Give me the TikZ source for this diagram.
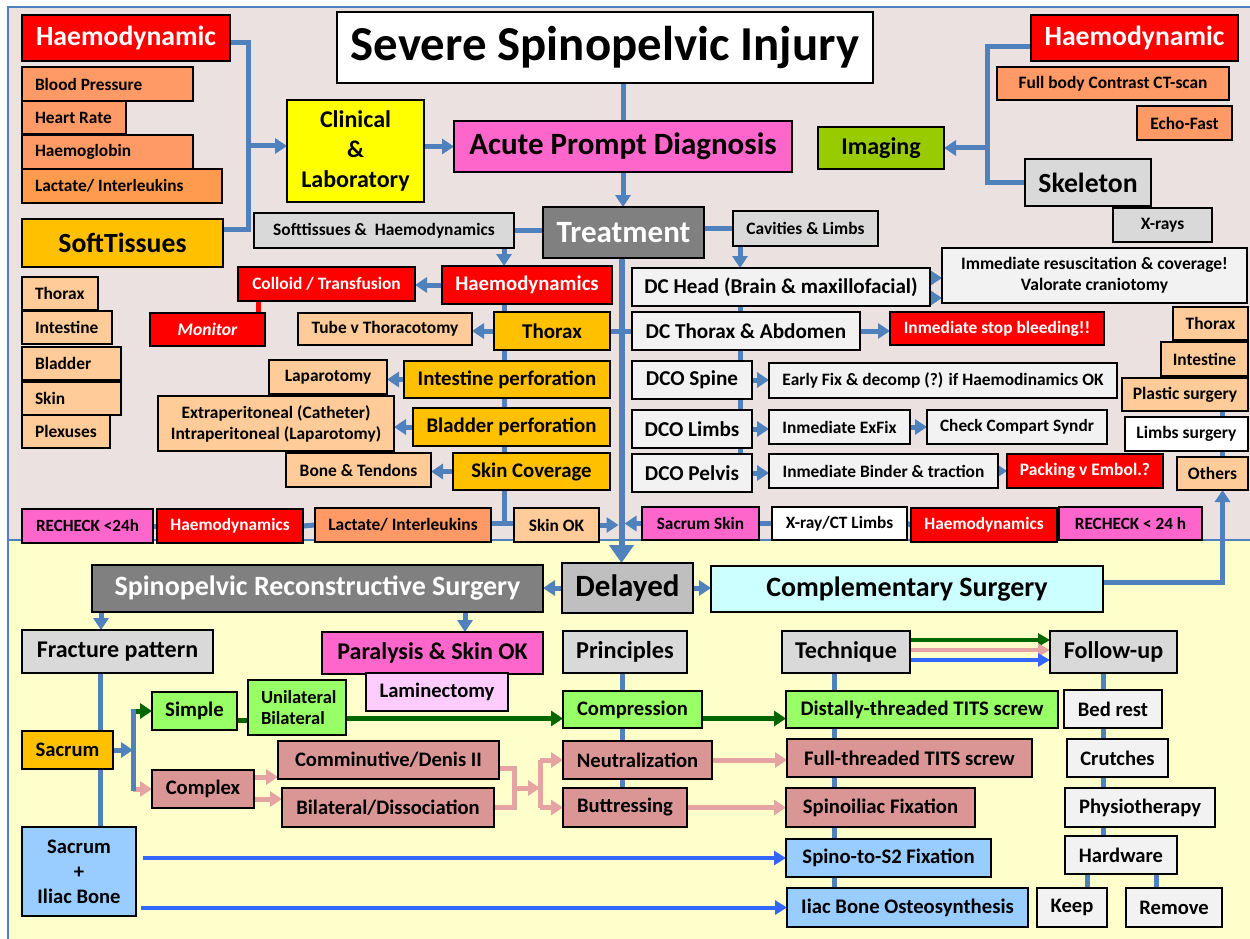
\documentclass[tikz,border=0pt]{standalone}
\usepackage{fontspec}
\setmainfont{Carlito}
\usetikzlibrary{arrows.meta}
\pgfdeclarelayer{back}
\pgfdeclarelayer{conns}
\pgfsetlayers{back,conns,main}
\definecolor{ctop}{HTML}{EBE1E1}
\definecolor{cbot}{HTML}{FFFFCC}
\definecolor{cblue}{HTML}{4F81BD}
\definecolor{cbright}{HTML}{3366FF}
\definecolor{cdgreen}{HTML}{006600}
\definecolor{cplink}{HTML}{E6A3A3}
\definecolor{cred}{HTML}{FF0000}
\definecolor{csalmon}{HTML}{FF9966}
\definecolor{corange}{HTML}{FF9B4F}
\definecolor{cpeach}{HTML}{FFCC99}
\definecolor{cgold}{HTML}{FFC000}
\definecolor{cyel}{HTML}{FFFF00}
\definecolor{cpink}{HTML}{FF66CC}
\definecolor{cimg}{HTML}{99CC00}
\definecolor{cgrey}{HTML}{D9D9D9}
\definecolor{clgrey}{HTML}{F2F2F2}
\definecolor{cmgrey}{HTML}{BFBFBF}
\definecolor{cdark}{HTML}{808080}
\definecolor{clgreen}{HTML}{99FF66}
\definecolor{crose}{HTML}{DA9694}
\definecolor{clblue}{HTML}{99CCFF}
\definecolor{ccyan}{HTML}{CCFFFF}
\definecolor{clpink}{HTML}{FFCCFF}
\newcommand\bx[7][]{\node[box,#1,minimum width={(#4-#2)*1pt},minimum height={(#5-#3)*1pt}] (#6) at ({(#2+#4)/2},{(#3+#5)/2}) {#7};}
\newcommand\bxl[7][]{\pgfmathsetmacro\bxtw{#4-#2-26}\node[box,#1,align=flush left,text width=\bxtw pt,inner xsep=13pt,minimum height={(#5-#3)*1pt}] (#6) at ({(#2+#4)/2},{(#3+#5)/2}) {#7};}
\tikzset{
  box/.style={draw=black,line width=1.5pt,inner sep=0pt,outer sep=0pt,align=flush center,text=black},
  fs/.style 2 args={font=\fontsize{#1}{#2}\selectfont\bfseries},
  wt/.style={text=white},
  conn/.style={draw=cblue,line width=5pt},
  arr/.style={conn,-{Triangle[width=15pt,length=12pt]}},
  bigarr/.style={draw=cblue,line width=6pt,-{Triangle[width=24pt,length=18pt]}},
  gconn/.style={draw=cdgreen,line width=5pt},
  garr/.style={gconn,-{Triangle[width=15pt,length=12pt]}},
  pconn/.style={draw=cplink,line width=5pt},
  parr/.style={pconn,-{Triangle[width=15pt,length=12pt]}},
  barr/.style={draw=cbright,line width=4pt,-{Triangle[width=14pt,length=12pt]}},
  tarr/.style={line width=4pt,-{Triangle[width=13pt,length=12pt]}},
}
\begin{document}
\begin{tikzpicture}[x=1pt,y=-1pt]
\useasboundingbox (0,0) rectangle (1250,939);
% ---------------- nodes: top ----------------
\bx[fill=white,fs={48.8}{52}]{337}{12}{873}{83}{title}{Severe Spinopelvic Injury}
\bx[fill=cred,wt,fs={27.7}{30}]{22}{15}{230}{61}{haemL}{Haemodynamic}
\bxl[fill=csalmon,fs={17.3}{20}]{22}{67}{193}{101}{bp}{Blood Pressure}
\bxl[fill=csalmon,fs={17.3}{20}]{22}{101}{126}{134}{hr}{Heart Rate}
\bxl[fill=csalmon,fs={17.3}{20}]{22}{135}{193}{169}{hb}{Haemoglobin}
\bxl[fill=corange,fs={17.3}{20}]{22}{169}{222}{203}{lactA}{Lactate/ Interleukins}
\bx[fill=cgold,fs={27.7}{30}]{22}{219}{223}{267}{soft}{SoftTissues}
\bx[fill=cyel,fs={24}{30}]{287}{100}{424}{202}{clin}{Clinical\\\&\\Laboratory}
\bx[fill=cpink,fs={31}{33}]{454}{121}{792}{172}{acute}{Acute Prompt Diagnosis}
\bx[fill=cimg,fs={24}{26}]{818}{127}{944}{169}{imaging}{Imaging}
\bx[fill=cred,wt,fs={27.7}{30}]{1031}{15}{1238}{61}{haemR}{Haemodynamic}
\bx[fill=csalmon,fs={17.4}{20}]{997}{67}{1229}{100}{ct}{Full body Contrast CT-scan}
\bx[fill=csalmon,fs={17.4}{20}]{1137}{106}{1232}{140}{echo}{Echo-Fast}
\bx[fill=cgrey,fs={27.7}{30}]{1025}{159}{1151}{206}{skel}{Skeleton}
\bx[fill=cgrey,fs={17.4}{20}]{1113}{208}{1212}{242}{xrays}{X-rays}
\bx[fill=cgrey,fs={17.4}{20}]{254}{213}{514}{248}{sth}{Softtissues \&~ Haemodynamics}
\bx[fill=cdark,wt,fs={31}{33}]{543}{207}{704}{258}{treat}{Treatment}
\bx[fill=cgrey,fs={17.4}{20}]{733}{211}{878}{246}{cav}{Cavities \& Limbs}
% ---------------- middle left ----------------
\bx[fill=cred,wt,fs={20.8}{23}]{442}{266}{612}{304}{haemB}{Haemodynamics}
\bx[fill=cred,wt,fs={17.4}{20}]{238}{267}{415}{301}{colloid}{Colloid / Transfusion}
\bx[fill=cred,wt,fs={17.6}{20}]{150}{313}{265}{346}{monitor}{\itshape Monitor}
\bx[fill=cgold,fs={21}{24}]{494}{312}{610}{350}{thorax}{Thorax}
\bx[fill=cpeach,fs={17.4}{20}]{298}{313}{472}{345}{tube}{Tube v Thoracotomy}
\bx[fill=cgold,fs={20.8}{23}]{404}{361}{610}{398}{intp}{Intestine perforation}
\bx[fill=cpeach,fs={17.4}{20}]{269}{360}{387}{394}{lap}{Laparotomy}
\bx[fill=cgold,fs={20.8}{23}]{413}{408}{610}{446}{blp}{Bladder perforation}
\bx[fill=cpeach,fs={17.4}{21}]{158}{396}{394}{451}{extra}{Extraperitoneal (Catheter)\\Intraperitoneal (Laparotomy)}
\bx[fill=cgold,fs={20.8}{23}]{453}{453}{610}{490}{skinc}{Skin Coverage}
\bx[fill=cpeach,fs={17.4}{20}]{286}{453}{431}{487}{bone}{Bone \& Tendons}
\bxl[fill=cpeach,fs={17.4}{20}]{22}{277}{98}{310}{lthx}{Thorax}
\bxl[fill=cpeach,fs={17.4}{20}]{22}{311}{112}{344}{lint}{Intestine}
\bxl[fill=cpeach,fs={17.4}{20}]{22}{347}{121}{380}{lbla}{Bladder}
\bxl[fill=cpeach,fs={17.4}{20}]{22}{382}{121}{415}{lskin}{Skin}
\bxl[fill=cpeach,fs={17.4}{20}]{22}{415}{110}{448}{lplex}{Plexuses}
% bottom row of top area
\bx[fill=cpink,fs={17.1}{20}]{22}{509}{153}{543}{rcA}{RECHECK <24h}
\bx[fill=cred,wt,fs={17.3}{20}]{157}{509}{303}{543}{haemC}{Haemodynamics}
\bx[fill=csalmon,fs={17.4}{20}]{315}{508}{491}{542}{lactB}{Lactate/ Interleukins}
\bx[fill=cpeach,fs={17.4}{20}]{514}{508}{599}{542}{skinok}{Skin OK}
\bx[fill=cpink,fs={17.3}{20}]{642}{507}{759}{540}{sacskin}{Sacrum Skin}
\bx[fill=white,fs={17.3}{20}]{772}{507}{907}{540}{xrayct}{X-ray/CT Limbs}
\bx[fill=cred,wt,fs={17.3}{20}]{911}{508}{1057}{542}{haemD}{Haemodynamics}
\bx[fill=cpink,fs={17.2}{20}]{1059}{507}{1202}{540}{rcB}{RECHECK < 24 h}
% ---------------- middle right ----------------
\bx[fill=clgrey,fs={21.1}{23}]{632}{268}{930}{306}{dchead}{DC Head (Brain \& maxillofacial)}
\bx[fill=clgrey,fs={17.5}{21}]{942}{248}{1247}{303}{imm}{Immediate resuscitation \& coverage!\\Valorate craniotomy}
\bx[fill=clgrey,fs={21.2}{23}]{632}{312}{860}{350}{dcthx}{DC Thorax \& Abdomen}
\bx[fill=cred,wt,fs={17.4}{20}]{890}{312}{1104}{345}{stop}{Inmediate stop bleeding!!}
\bx[fill=clgrey,fs={21.2}{23}]{632}{361}{752}{399}{dcospine}{DCO Spine}
\bx[fill=clgrey,fs={17.4}{20}]{769}{363}{1117}{398}{early}{Early Fix \& decomp (?) if Haemodinamics OK}
\bx[fill=clgrey,fs={21.2}{23}]{632}{410}{752}{448}{dcolimbs}{DCO Limbs}
\bx[fill=clgrey,fs={17.4}{20}]{769}{410}{910}{444}{exfix}{Inmediate ExFix}
\bx[fill=clgrey,fs={17.3}{20}]{927}{410}{1107}{444}{check}{Check Compart Syndr}
\bx[fill=clgrey,fs={21.2}{23}]{632}{454}{752}{492}{dcopel}{DCO Pelvis}
\bx[fill=clgrey,fs={17.4}{20}]{769}{454}{998}{488}{binder}{Inmediate Binder \& traction}
\bx[fill=cred,wt,fs={17.5}{20}]{1007}{454}{1163}{488}{packing}{Packing v Embol.?}
\bx[fill=cpeach,fs={17.4}{20}]{1173}{307}{1248}{340}{rthx}{Thorax}
\bx[fill=cpeach,fs={17.4}{20}]{1161}{342}{1248}{376}{rint}{Intestine}
\bx[fill=cpeach,fs={17.5}{20}]{1122}{378}{1248}{411}{plast}{Plastic surgery}
\bx[fill=white,fs={17.5}{20}]{1125}{417}{1248}{451}{limbs}{Limbs surgery}
\bx[fill=cpeach,fs={17.5}{20}]{1177}{457}{1248}{490}{others}{Others}
% ---------------- bottom ----------------
\bx[fill=cmgrey,fs={31}{33}]{562}{563}{693}{613}{delayed}{Delayed}
\bx[fill=cdark,wt,fs={28}{30}]{92}{565}{543}{612}{spr}{Spinopelvic Reconstructive Surgery}
\bx[fill=ccyan,fs={28}{30}]{711}{566}{1103}{612}{comp}{Complementary Surgery}
\bx[fill=cgrey,fs={24}{26}]{22}{630}{213}{673}{frac}{Fracture pattern}
\bx[fill=cpink,fs={24}{26}]{322}{632}{543}{674}{paral}{Paralysis \& Skin OK}
\bx[fill=clpink,fs={20.6}{22}]{366}{673}{508}{711}{lamin}{Laminectomy}
\bx[fill=cgrey,fs={24.3}{26}]{563}{631}{687}{673}{princ}{Principles}
\bx[fill=cgrey,fs={24.1}{26}]{782}{631}{910}{673}{tech}{Technique}
\bx[fill=cgrey,fs={24.1}{26}]{1050}{631}{1177}{673}{fu}{Follow-up}
\bx[fill=cgold,fs={20.6}{24}]{22}{731}{113}{769}{sacrum}{Sacrum}
\bx[fill=clgreen,fs={20.8}{24}]{152}{692}{237}{730}{simple}{Simple}
\bxl[fill=clgreen,fs={18.5}{21}]{248}{680}{346}{735}{unil}{Unilateral\\Bilateral}
\bx[fill=crose,fs={20.6}{24}]{152}{770}{254}{808}{complex}{Complex}
\bx[fill=crose,fs={20.6}{22}]{278}{741}{499}{779}{comm}{Comminutive/Denis II}
\bx[fill=crose,fs={20.6}{22}]{282}{788}{494}{827}{bilat}{Bilateral/Dissociation}
\bx[fill=clblue,fs={20.6}{25}]{22}{827}{136}{916}{sacil}{Sacrum\\+\\Iliac Bone}
\bx[fill=clgreen,fs={20.6}{22}]{563}{691}{702}{728}{compr}{Compression}
\bx[fill=crose,fs={20.6}{22}]{563}{741}{712}{779}{neut}{Neutralization}
\bx[fill=crose,fs={20.6}{22}]{563}{788}{687}{827}{butt}{Buttressing}
\bx[fill=clgreen,fs={20.7}{22}]{786}{691}{1058}{728}{distal}{Distally-threaded TITS screw}
\bx[fill=crose,fs={20.7}{22}]{787}{739}{1032}{777}{full}{Full-threaded TITS screw}
\bx[fill=crose,fs={20.7}{22}]{786}{788}{975}{827}{spinoil}{Spinoiliac Fixation}
\bx[fill=clblue,fs={20.7}{22}]{786}{839}{991}{877}{stwo}{Spino-to-S2 Fixation}
\bx[fill=clblue,fs={20.7}{22}]{787}{888}{1028}{927}{iiac}{Iiac Bone Osteosynthesis}
\bx[fill=clgrey,fs={20.6}{22}]{1064}{690}{1162}{728}{bed}{Bed rest}
\bx[fill=clgrey,fs={20.6}{22}]{1067}{739}{1168}{777}{crutch}{Crutches}
\bx[fill=clgrey,fs={20.6}{22}]{1065}{788}{1215}{827}{physio}{Physiotherapy}
\bx[fill=clgrey,fs={20.6}{22}]{1065}{836}{1177}{874}{hw}{Hardware}
\bx[fill=clgrey,fs={20.6}{22}]{1037}{888}{1107}{927}{keep}{Keep}
\bx[fill=clgrey,fs={20.6}{22}]{1126}{888}{1222}{927}{remove}{Remove}
% ---------------- background ----------------
\begin{pgfonlayer}{back}
\fill[white] (0,0) rectangle (1250,939);
\fill[ctop] (8,7) rectangle (1262,540);
\fill[cbot] (8,540) rectangle (1262,950);
\draw[cblue,line width=2.5pt] (1262,7) -- (8,7) -- (8,950);
\draw[cblue,line width=2.5pt] (8,540) -- (1262,540);
\end{pgfonlayer}
% ---------------- connectors ----------------
\begin{pgfonlayer}{conns}
\coordinate (jL) at (248,146);
\coordinate (jR) at (987,148);
\coordinate (jS) at (504,523);
\coordinate (bk) at (133,749);
\coordinate (pbA) at (514,788);
\coordinate (pbB) at (540,788);
\draw[conn] ([yshift=-5pt]haemL.east) -- ++(18,0) |- ([yshift=14pt]soft.east);
\draw[arr] (jL) -- (jL -| clin.west);
\draw[arr] (acute.west -| clin.east) -- (acute.west);
\draw[conn] (acute.north |- title.south) -- (acute.north);
\draw[arr] (acute.south) -- (acute.south |- treat.north);
\draw[conn] ([yshift=-9pt]haemR.west) -- ++(-44,0) |- (skel.west);
\draw[arr] (jR) -- (jR -| imaging.east);
\draw[conn] (sth.east) -- (sth.east -| treat.west);
\draw[conn] (treat.east |- cav.west) -- (cav.west);
\draw[arr] ([xshift=-10pt]sth.south east) -- ([xshift=-10pt]sth.south east |- haemB.north);
\draw[arr] ([xshift=7pt]cav.south west) -- ([xshift=7pt]cav.south west |- dchead.north);
\draw[arr] (haemB.west) -- (haemB.west -| colloid.east);
\draw[line width=5pt,cred] ([xshift=20pt]colloid.south west) -- ([xshift=20pt]colloid.south west |- monitor.north);
\draw[conn] (jS |- haemB.south) -- (jS);
\draw[conn] (lactB.east |- jS) -- (jS -| skinok.west);
\draw[arr] (thorax.west) -- (thorax.west -| tube.east);
\draw[arr] (intp.west) -- (intp.west -| lap.east);
\draw[arr] (blp.west) -- (blp.west -| extra.east);
\draw[arr] (skinc.west) -- (skinc.west -| bone.east);
\draw[conn] (rcA.east) -- (haemC.west);
\draw[conn] (haemC.east) -- (lactB.west);
\draw[bigarr] ([xshift=-2pt]treat.south) -- ([xshift=-2pt]treat.south |- delayed.north);
\draw[arr] (skinok.east) -- ([xshift=-5pt]skinok.east -| treat.south);
\draw[arr] (sacskin.west) -- ([xshift=1pt]sacskin.west -| treat.south);
\draw[conn] (thorax.east) -- (thorax.east -| dcthx.west);
\draw[conn] ([xshift=108pt]dchead.south west) -- ([xshift=108pt]dchead.south west |- dcopel.north);
\draw[arr] ([yshift=9pt]dchead.east) -- ([yshift=9pt]dchead.east -| imm.west);
\draw[arr] ([yshift=-11pt]dchead.east) -- ([yshift=-11pt]dchead.east -| imm.west);
\draw[arr] (dcthx.east) -- (dcthx.east -| stop.west);
\draw[arr] (dcospine.east) -- (dcospine.east -| early.west);
\draw[arr] (dcolimbs.east) -- (dcolimbs.east -| exfix.west);
\draw[arr] (exfix.east) -- (exfix.east -| check.west);
\draw[arr] (dcopel.east) -- (dcopel.east -| binder.west);
\draw[arr] (binder.east) -- (binder.east -| packing.west);
\draw[conn] (sacskin.east) -- (xrayct.west);
\draw[conn] (xrayct.east) -- (haemD.west);
\draw[arr] ([yshift=7pt]comp.east) -| ([xshift=10pt]others.south);
\draw[conn] ([xshift=10pt]others.north) -- ([xshift=10pt]others.north |- rthx.south);
% bottom
\draw[arr] (delayed.west) -- (delayed.west -| spr.east);
\draw[arr] (delayed.east) -- (delayed.east -| comp.west);
\draw[arr] ([xshift=9pt]spr.south west) -- ([xshift=9pt]spr.south west |- frac.north);
\draw[arr] ([xshift=-78pt]spr.south east) -- ([xshift=-78pt]spr.south east |- paral.north);
\draw[conn] ([xshift=78pt]frac.south west) -- ([xshift=78pt]frac.south west |- sacil.north);
\draw[garr] (bk |- simple.west) -- (simple.west);
\draw[parr] (bk |- complex.west) -- (complex.west);
\draw[conn] ([yshift=2pt]bk |- simple.west) -- ([yshift=-2pt]bk |- complex.west);
\draw[arr] (sacrum.east) -- (sacrum.east -| bk);
\draw[gconn] ([yshift=-9pt]simple.east) -- ([yshift=-9pt]simple.east -| unil.west);
\draw[garr] ([yshift=-9pt]compr.west -| unil.east) -- ([yshift=-9pt]compr.west);
\draw[garr] ([yshift=-9pt]compr.east) -- ([yshift=-9pt]compr.east -| distal.west);
\draw[parr] ([yshift=12pt]complex.east) -- ([yshift=12pt]complex.east -| comm.west);
\draw[parr] ([yshift=-10pt]complex.east) -- ([yshift=-10pt]complex.east -| bilat.west);
\draw[pconn] ([yshift=-8pt]comm.east) -| (pbA |- bilat.east) -- (bilat.east);
\draw[parr] (pbA) -- (pbB);
\draw[pconn] (pbB |- neut.west) -- (pbB |- butt.west);
\draw[parr] (pbB |- neut.west) -- (neut.west);
\draw[parr] (pbB |- butt.west) -- (butt.west);
\draw[conn] ([xshift=-3pt]princ.south) -- ([xshift=-3pt]princ.south |- butt.north);
\draw[parr] (neut.east) -- (neut.east -| full.west);
\draw[parr] (butt.east) -- (butt.east -| spinoil.west);
\draw[conn] ([xshift=-12pt]tech.south) -- ([xshift=-12pt]tech.south |- iiac.north);
\draw[tarr,cdgreen] ([yshift=12pt]tech.east) -- ([yshift=12pt]tech.east -| fu.west);
\draw[tarr,cplink] ([yshift=2pt]tech.east) -- ([yshift=2pt]tech.east -| fu.west);
\draw[tarr,cbright] ([yshift=-8pt]tech.east) -- ([yshift=-8pt]tech.east -| fu.west);
\draw[barr] ([xshift=7pt]sacil.east |- stwo.west) -- (stwo.west);
\draw[barr] ([xshift=5pt]sacil.east |- iiac.west) -- (iiac.west);
\draw[conn] ([xshift=-10pt]fu.south) -- ([xshift=-10pt]fu.south |- hw.north);
\draw[conn] ([xshift=15pt]keep.north) -- ([xshift=15pt]keep.north |- hw.south);
\draw[conn] ([xshift=-18pt]remove.north) -- ([xshift=-18pt]remove.north |- hw.south);
\end{pgfonlayer}
\end{tikzpicture}
\end{document}
